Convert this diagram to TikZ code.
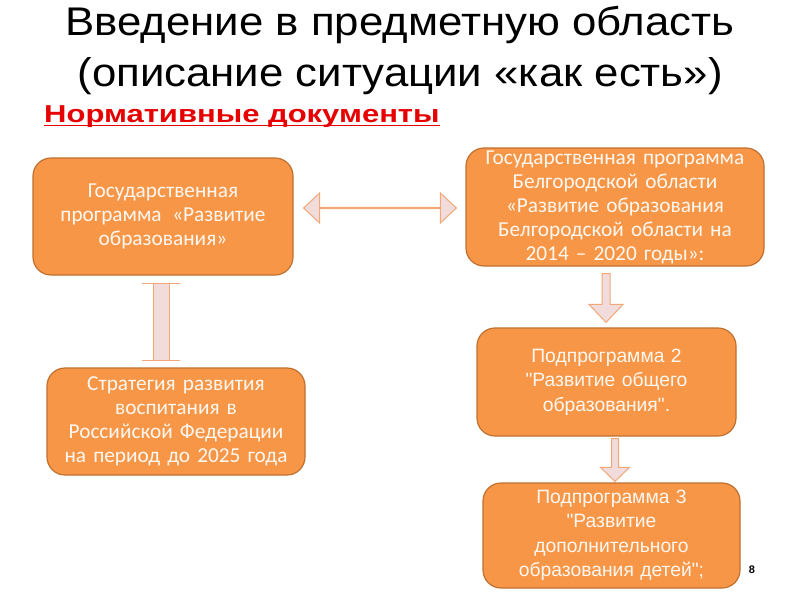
\documentclass[tikz,border=0pt]{standalone}
\usepackage{fontspec}
\setmainfont{Liberation Sans}
\newfontfamily\calib{Carlito}
\newfontfamily\ariaf{Liberation Sans}[Ligatures=TeXOff]
\usetikzlibrary{calc}
\definecolor{boxfill}{HTML}{F79646}
\definecolor{boxline}{HTML}{C0712F}
\definecolor{boxtext}{HTML}{FFF8F2}
\definecolor{arrfill}{HTML}{F2DCDB}
\definecolor{arrline}{HTML}{F0A878}
\definecolor{headred}{HTML}{E60000}
\tikzset{
  orangebox/.style={draw=boxline, line width=1.2pt, fill=boxfill, rounded corners=18pt,
    text=boxtext, align=center, inner sep=2pt},
  calibtext/.style={font=\calib\fontsize{21.3}{24}\selectfont},
  ariatext/.style={font=\ariaf\fontsize{19.3}{24.5}\selectfont},
  arrowbody/.style={draw=arrline, line width=1pt, fill=arrfill, line join=miter},
  titletext/.style={anchor=base, font=\fontsize{40}{44}\selectfont, text=black, inner sep=0pt}
}
\begin{document}
\begin{tikzpicture}[x=1pt,y=-1pt]
\useasboundingbox[fill=white] (0,0) rectangle (800,600);

% title
\node[titletext] (t1) at (400,35) {\scalebox{1.094}[1]{Введение в предметную область}};
\node[titletext] (t2) at (400,86) {\scalebox{1.094}[1]{(описание ситуации «как есть»)}};
\node[anchor=base west, inner sep=0pt, text=headred, font=\bfseries\fontsize{24.5}{28}\selectfont] (hd) at (44,122)
  {\scalebox{1.265}[1]{Нормативные документы}};
\draw[headred, line width=1.8pt] ($(hd.base west)+(0,3.5)$) -- ($(hd.base east)+(0,3.5)$);

% boxes
\node[orangebox, calibtext, minimum width=260pt, minimum height=117pt, text width=254pt] (A) at (163,216.5)
  {Государственная\\программа \,«Развитие\\образования»};
\node[orangebox, calibtext, minimum width=298pt, minimum height=118pt, text width=294pt] (B) at (615,207)
  {Государственная программа\\Белгородской области\\«Развитие образования\\Белгородской области на\\2014 – 2020 годы»:};
\node[orangebox, ariatext, minimum width=259pt, minimum height=108pt, text width=250pt] (C) at (606.5,382)
  {Подпрограмма 2\\"Развитие общего\\образования".};
\node[orangebox, ariatext, minimum width=257pt, minimum height=105pt, text width=250pt] (D) at (611.5,535.5)
  {Подпрограмма 3\\"Развитие\\дополнительного\\образования детей";};
\node[orangebox, calibtext, minimum width=258pt, minimum height=107pt, text width=254pt] (E) at (176,421.5)
  {Стратегия развития\\воспитания в\\Российской Федерации\\на период до 2025 года};

% page number
\node[font=\bfseries\fontsize{11}{12}\selectfont, inner sep=0pt] (pn) at (752,570) {8};

% horizontal double arrow A <-> B
\coordinate (hl) at ($(A.east)+(10,-8.5)$);
\coordinate (hr) at ($(B.west)+(-9,1)$);
\draw[arrowbody] (hl) -- ++(16,-15) -- ++(0,14.4) -- ($(hr)+(-16,-0.6)$) -- ++(0,-14.4) -- (hr)
  -- ++(-16,15) -- ++(0,-14.4) -- ($(hl)+(16,0.6)$) -- ++(0,14.4) -- cycle;

% vertical I-beam A <-> E
\coordinate (vt) at ($(A.south)+(-2,8)$);
\coordinate (vb) at ($(E.north)+(-15,-7)$);
\draw[arrowbody] ($(vt)+(-19,0)$) -- ($(vt)+(19,0)$) -- ($(vt)+(8,0)$) -- ($(vb)+(8,0)$)
  -- ($(vb)+(19,0)$) -- ($(vb)+(-19,0)$) -- ($(vb)+(-8,0)$) -- ($(vt)+(-8,0)$) -- cycle;

% down arrow B -> C
\coordinate (d1t) at ($(B.south)+(-9,7)$);
\coordinate (d1b) at ($(C.north)+(-0.5,-5)$);
\draw[arrowbody] ($(d1t)+(-4,0)$) -- ($(d1t)+(4,0)$) -- ($(d1b)+(4,-18)$) -- ($(d1b)+(17,-18)$)
  -- (d1b) -- ($(d1b)+(-17,-18)$) -- ($(d1b)+(-4,-18)$) -- cycle;

% down arrow C -> D
\coordinate (d2t) at ($(C.south)+(8.5,2)$);
\coordinate (d2b) at ($(D.north)+(3.5,-1)$);
\draw[arrowbody] ($(d2t)+(-3.5,0)$) -- ($(d2t)+(3.5,0)$) -- ($(d2b)+(3.5,-14)$) -- ($(d2b)+(14.5,-14)$)
  -- (d2b) -- ($(d2b)+(-14.5,-14)$) -- ($(d2b)+(-3.5,-14)$) -- cycle;
\end{tikzpicture}
\end{document}
